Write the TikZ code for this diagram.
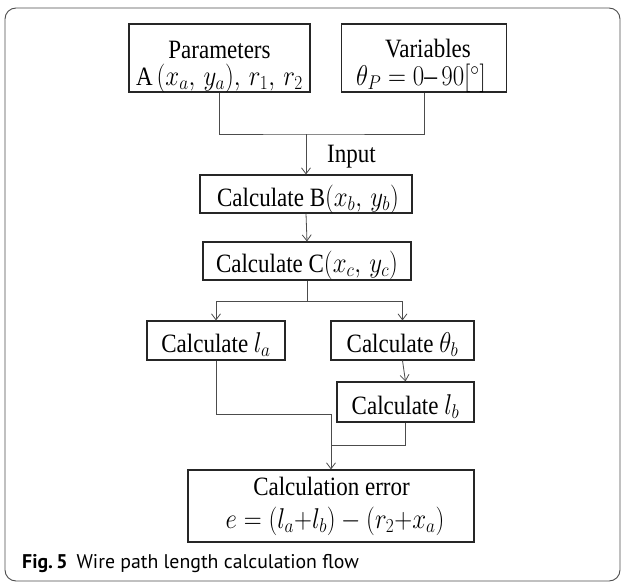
\documentclass[tikz,border=0pt]{standalone}
\usepackage{graphicx}
\usepackage{fontspec}
\setmainfont{Liberation Serif}
\newfontfamily\capfont{PT Sans}
\usetikzlibrary{arrows.meta}
\newcommand\vs[1]{\scalebox{1}[1.15]{#1}}
\newcommand\mm[1]{{\fontsize{25.5}{26}\selectfont$#1$}}
\begin{document}
\begin{tikzpicture}[x=1pt,y=-1pt,
  box/.style={draw=black!85,line width=1.1pt,inner sep=0pt},
  txt/.style={anchor=base,inner sep=0pt,font=\fontsize{23}{26}\selectfont},
  conn/.style={draw=black!70,line width=0.8pt},
  arr/.style={conn,-{Straight Barb[length=6pt,width=9pt,line width=0.8pt]}}]
\useasboundingbox (0,0) rectangle (624,584);
\draw[black!70,line width=0.9pt,rounded corners=11pt] (5,8) rectangle (620,581);
% boxes
\node[box,minimum width=181pt,minimum height=68pt] (P) at (219.5,58) {};
\node[box,minimum width=165pt,minimum height=68pt] (V) at (424,58) {};
\node[box,minimum width=212pt,minimum height=38pt] (B) at (306,194) {};
\node[box,minimum width=208pt,minimum height=38pt] (C) at (307,261) {};
\node[box,minimum width=138pt,minimum height=39pt] (LA) at (216,340.5) {};
\node[box,minimum width=143pt,minimum height=39pt] (TB) at (402.5,340.5) {};
\node[box,minimum width=137pt,minimum height=40pt] (LB) at (405.5,402) {};
\node[box,minimum width=286pt,minimum height=72pt] (E) at (331,506) {};
% texts
\node[txt] (P1) at (219.5,58) {\vs{Parameters}};
\node[txt] (P2) at (219.5,85) {\vs{A\,\mm{(x_a,\,y_a),\,r_1,\,r_2}}};
\node[txt] (V1) at (428,57) {\vs{Variables}};
\node[txt] (V2) at (421,85.5) {\vs{\mm{\theta_P = 0}{\fontsize{25.5}{26}\selectfont –\,}\mm{90[^\circ]}}};
\node[txt,anchor=base west] (IN) at (327,162) {\vs{Input}};
\node[txt] (B1) at (308,206) {\vs{Calculate B\mm{(x_b,\,y_b)}}};
\node[txt] (C1) at (307,272) {\vs{Calculate C\mm{(x_c,\,y_c)}}};
\node[txt] (LA1) at (216,352) {\vs{Calculate \mm{l_a}}};
\node[txt] (TB1) at (402.5,352) {\vs{Calculate \mm{\theta_b}}};
\node[txt] (LB1) at (405.5,414) {\vs{Calculate \mm{l_b}}};
\node[txt] (E1) at (331.5,495) {\vs{Calculation error}};
\node[txt] (E2) at (335,528.5) {\vs{\mm{e=(l_a{+}l_b)-(r_2{+}x_a)}}};
\node[anchor=base west,inner sep=0pt,font=\capfont\fontsize{19.8}{22}\selectfont] (CAP) at (22,568)
  {\textbf{Fig.\,5}\hspace{9pt}Wire path length calculation flow};
% connectors
\coordinate (J0) at (B.north |- 0,134);
\draw[conn] (P.south) |- (J0) -| (V.south);
\draw[arr] (J0) -- (B.north);
\draw[arr] (B.south) -- (C.north);
\coordinate (J1) at (C.south |- 0,301);
\draw[conn] (C.south) -- (J1);
\draw[arr] (J1) -| (LA.north);
\draw[arr] (J1) -| (TB.north);
\draw[arr] (TB.south) -- (LB.north);
\coordinate (J2) at (E.north |- 0,414);
\coordinate (J3) at (E.north |- 0,445);
\draw[conn] (LA.south) |- (J2);
\draw[conn] (LB.south) |- (J3);
\draw[arr] (J2) -- (E.north);
\end{tikzpicture}
\end{document}
